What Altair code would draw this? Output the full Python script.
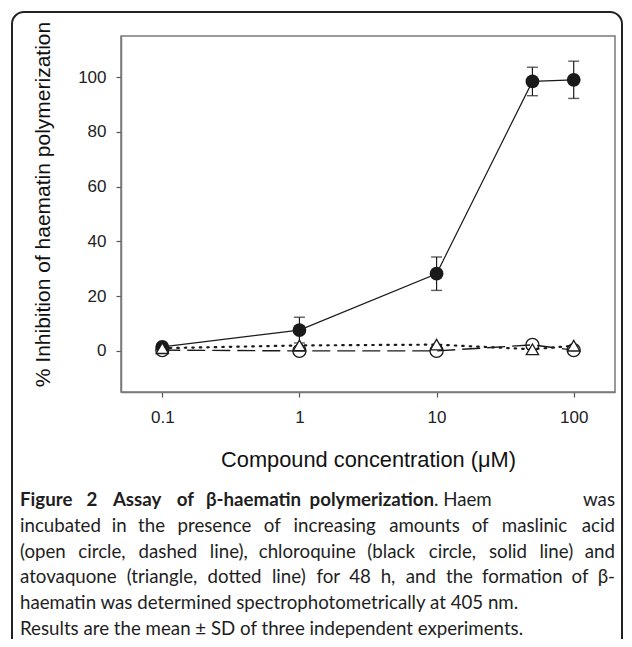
import altair as alt
import pandas as pd

conc = [0.1, 1, 10, 50, 100]
chloroquine = [1.5, 7.6, 28.2, 98.4, 99.0]
chloroquine_sd = [1.0, 4.7, 6.1, 5.2, 6.8]
maslinic = [0.3, 0.0, 0.0, 2.2, 0.3]
atovaquone = [1.0, 2.0, 2.3, 0.6, 1.9]

x_ticks = [0.1, 1, 10, 100]
y_ticks = [0, 20, 40, 60, 80, 100]

x_title = "Compound concentration (\u03bcM)"
y_title = "% Inhibition of haematin polymerization"

caption_bold = "Figure 2 Assay of \u03b2-haematin polymerization"
caption_first_rest = [". Haem", "was"]
caption_justified = [
    "incubated in the presence of increasing amounts of maslinic acid",
    "(open circle, dashed line), chloroquine (black circle, solid line) and",
    "atovaquone (triangle, dotted line) for 48 h, and the formation of \u03b2-",
]
caption_plain = [
    "haematin was determined spectrophotometrically at 405 nm.",
    "Results are the mean \u00b1 SD of three independent experiments.",
]

chl = pd.DataFrame({"conc": conc, "mean": chloroquine,
                    "lo": [m - s for m, s in zip(chloroquine, chloroquine_sd)],
                    "hi": [m + s for m, s in zip(chloroquine, chloroquine_sd)]})
mas = pd.DataFrame({"conc": conc, "mean": maslinic})
ato = pd.DataFrame({"conc": conc, "mean": atovaquone})

xs = alt.Scale(type="log", domain=[0.05, 200], nice=False)
ys = alt.Scale(domain=[-15, 115], nice=False, zero=False)
X = alt.X("conc:Q", scale=xs, title=x_title,
          axis=alt.Axis(values=x_ticks, format="~g", grid=False))
Y = alt.Y("mean:Q", scale=ys, title=y_title,
          axis=alt.Axis(values=y_ticks, grid=False, titleY=168))
INK = "#1a1a1a"

err = alt.Chart(chl).mark_rule(color=INK, strokeWidth=1.2).encode(x=X, y=alt.Y("lo:Q", scale=ys), y2="hi:Q")
cap_hi = alt.Chart(chl).mark_tick(color=INK, thickness=1.4, size=11, orient="horizontal").encode(
    x=X, y=alt.Y("hi:Q", scale=ys))
cap_lo = alt.Chart(chl).mark_tick(color=INK, thickness=1.4, size=11, orient="horizontal").encode(
    x=X, y=alt.Y("lo:Q", scale=ys))
chl_line = alt.Chart(chl).mark_line(color=INK, strokeWidth=1.2).encode(x=X, y=Y)
chl_pts = alt.Chart(chl).mark_point(shape="circle", filled=True, color=INK, size=190, opacity=1).encode(x=X, y=Y)

mas_line = alt.Chart(mas).mark_line(color=INK, strokeWidth=1.4, strokeDash=[18, 7]).encode(x=X, y=Y)
ato_line = alt.Chart(ato).mark_line(color=INK, strokeWidth=2.2, strokeDash=[1.5, 6], strokeCap="round").encode(x=X, y=Y)
mas_pts = alt.Chart(mas).mark_point(shape="circle", filled=False, fill="white", fillOpacity=0, stroke=INK,
                                    strokeWidth=1.3, size=170, opacity=1).encode(x=X, y=Y)
ato_pts = alt.Chart(ato).mark_point(shape="triangle-up", filled=False, fill="white", fillOpacity=1, stroke=INK,
                                    strokeWidth=1.3, size=150, opacity=1).encode(x=X, y=Y)

# ---- decorative frame and caption (pixel positions relative to the plot origin) ----
one = pd.DataFrame({"a": [0]})
box = alt.Chart(one).mark_rect(fill=None, stroke="#222222", strokeWidth=2, cornerRadius=12).encode(
    x=alt.value(-109), x2=alt.value(501), y=alt.value(-24), y2=alt.value(660))

CAP_FONT = "Lato"
CAP_SIZE = 18.7
LINE_Y0 = 464
LINE_DY = 25.8
x_left = -101
x_right = 494
bold_right = 313

# rough relative glyph widths (em) used only to spread words for justification
NARROW = set("ijlI.,;:'!|")
SEMI = set("frt()-[] ")
WIDE = set("mwMW%")


def est_width(word):
    w = 0.0
    for ch in word:
        if ch in NARROW:
            w += 0.24
        elif ch in SEMI:
            w += 0.33
        elif ch in WIDE:
            w += 0.82
        elif ch.isupper():
            w += 0.66
        else:
            w += 0.53
    return w


def txt(s, x, y, align, bold=False):
    kw = {"fontWeight": "bold"} if bold else {}
    return alt.Chart(one).mark_text(text=s, font=CAP_FONT, fontSize=CAP_SIZE, align=align,
                                    baseline="middle", color="#1e1e1e", **kw).encode(
        x=alt.value(x), y=alt.value(y))


def justified(words, y, x0, x1, bold=False):
    ws = [est_width(w) * CAP_SIZE for w in words]
    gap = (x1 - x0 - sum(ws)) / (len(words) - 1)
    out = []
    pos = x0
    for i, (w, wd) in enumerate(zip(words, ws)):
        if i == 0:
            out.append(txt(w, x0, y, "left", bold))
        elif i == len(words) - 1:
            out.append(txt(w, x1, y, "right", bold))
        else:
            out.append(txt(w, pos + wd / 2, y, "center", bold))
        pos += wd + gap
    return out


texts = []
texts += justified(caption_bold.split(" "), LINE_Y0, x_left, bold_right, bold=True)
texts.append(txt(caption_first_rest[0], bold_right, LINE_Y0, "left"))
texts.append(txt(caption_first_rest[1], x_right, LINE_Y0, "right"))
for i, line in enumerate(caption_justified):
    texts += justified(line.split(" "), LINE_Y0 + (i + 1) * LINE_DY, x_left, x_right)
for j, line in enumerate(caption_plain):
    texts.append(txt(line, x_left, LINE_Y0 + (len(caption_justified) + 1 + j) * LINE_DY, "left"))

chart = alt.layer(box, err, cap_hi, cap_lo, chl_line, mas_line, ato_line, chl_pts, mas_pts, ato_pts,
                  *texts).properties(
    width=494, height=356,
    padding={"left": 113, "top": 28, "right": 9, "bottom": 247},
    autosize=alt.AutoSizeParams(type="none"),
).configure_view(stroke="#7a7a7a", strokeWidth=1.5).configure_axis(
    domainColor="#7a7a7a", domainWidth=1.5, tickColor="#555555", tickSize=5, tickWidth=1.2,
    labelFont="Liberation Sans", labelFontSize=17, labelColor="#222222",
    titleFont="Liberation Sans", titleFontSize=21, titleFontWeight="normal", titleColor="#111111",
).configure_axisX(labelPadding=12, titlePadding=24, titleFontSize=21.8).configure_axisY(labelPadding=10, titlePadding=24)

chart.save("out.html", embed_options={"renderer": "svg", "actions": False})
